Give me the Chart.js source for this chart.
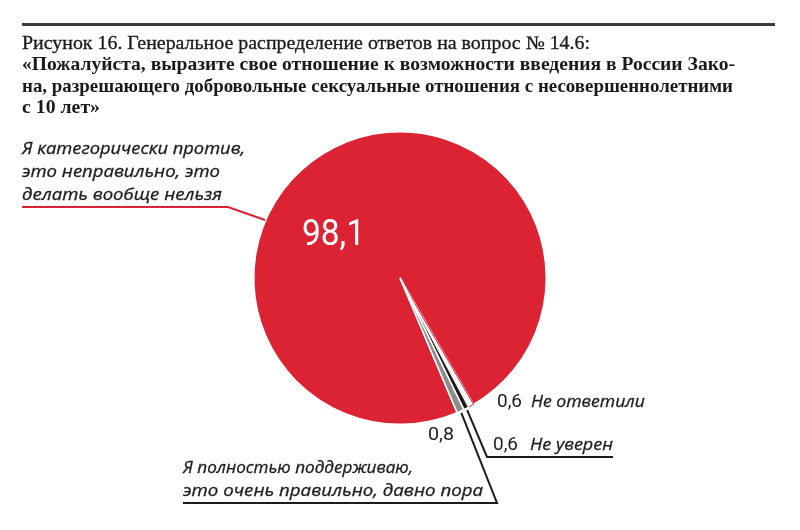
<!DOCTYPE html>
<html lang="ru">
<head>
<meta charset="utf-8">
<script src="https://cdn.jsdelivr.net/npm/chart.js@4"></script>
<style>
  html, body { margin: 0; padding: 0; background: #fff; }
  #wrap { width: 800px; height: 530px; }
</style>
</head>
<body>
<div id="wrap"><canvas id="pieChart" width="800" height="530"></canvas></div>
<script>
// data
const categories = [
  "Я категорически против, это неправильно, это делать вообще нельзя",
  "Не ответили",
  "Не уверен",
  "Я полностью поддерживаю, это очень правильно, давно пора"
];
const values = [98.1, 0.6, 0.6, 0.8];
const valueLabels = ["98,1", "0,6", "0,6", "0,8"];

const titleLines = [
  "Рисунок 16. Генеральное распределение ответов на вопрос № 14.6:",
  "«Пожалуйста, выразите свое отношение к возможности введения в России Зако-",
  "на, разрешающего добровольные сексуальные отношения с несовершеннолетними",
  "с 10 лет»"
];

const RED = "#dc2334";
const DARK = "#1e1b1c";
const GRAY = "#8c8c8c";

// draw text squeezed / stretched to a given width
function fitText(ctx, text, x, y, width, heavy) {
  const w = ctx.measureText(text).width;
  ctx.save();
  ctx.translate(x, y);
  ctx.scale(width / w, 1);
  ctx.fillText(text, 0, 0);
  if (heavy) {
    ctx.strokeStyle = ctx.fillStyle;
    ctx.lineWidth = heavy;
    ctx.strokeText(text, 0, 0);
  }
  ctx.restore();
}

// point on the edge of a slice, at its middle angle
function sliceEdge(arc, extra) {
  const p = arc.getProps(["x", "y", "startAngle", "endAngle", "outerRadius"], true);
  const a = (p.startAngle + p.endAngle) / 2;
  const r = p.outerRadius + extra;
  return { x: p.x + Math.cos(a) * r, y: p.y + Math.sin(a) * r };
}

const annotations = {
  id: "annotations",
  afterDraw(chart) {
    const ctx = chart.ctx;
    const arcs = chart.getDatasetMeta(0).data;
    ctx.save();

    // top rule
    ctx.fillStyle = "#3a3a3a";
    ctx.fillRect(22, 23, 753, 3);

    // title
    ctx.fillStyle = "#1a1a1a";
    ctx.textBaseline = "alphabetic";
    ctx.font = "19px 'Liberation Serif', serif";
    fitText(ctx, titleLines[0], 22, 49, 568, 0.3);
    ctx.font = "bold 19px 'Liberation Serif', serif";
    fitText(ctx, titleLines[1], 22, 70, 713);
    fitText(ctx, titleLines[2], 22, 92, 711);
    fitText(ctx, titleLines[3], 22, 113, 78);

    // big value on the red slice
    ctx.fillStyle = "#fff";
    ctx.font = "37px Roboto, sans-serif";
    fitText(ctx, valueLabels[0], 302, 245, 63);

    // red label
    ctx.fillStyle = DARK;
    ctx.font = "italic 17px 'Open Sans', sans-serif";
    fitText(ctx, "Я категорически против,", 22, 154, 223, 0.3);
    fitText(ctx, "это неправильно, это", 22, 177, 198, 0.3);
    fitText(ctx, "делать вообще нельзя", 22, 200, 200, 0.3);

    ctx.strokeStyle = RED;
    ctx.lineWidth = 2;
    ctx.beginPath();
    ctx.moveTo(22, 207);
    ctx.lineTo(228, 207);
    ctx.lineTo(265, 220);
    ctx.stroke();

    // small slices
    ctx.strokeStyle = DARK;
    ctx.lineWidth = 2;
    const pNotSure = sliceEdge(arcs[2], 2);
    ctx.beginPath();
    ctx.moveTo(pNotSure.x, pNotSure.y);
    ctx.lineTo(487, 457);
    ctx.lineTo(613, 457);
    ctx.stroke();

    const pSupport = sliceEdge(arcs[3], 2);
    ctx.beginPath();
    ctx.moveTo(pSupport.x, pSupport.y);
    ctx.lineTo(497, 503);
    ctx.lineTo(183, 503);
    ctx.stroke();

    ctx.fillStyle = DARK;
    ctx.font = "18px Roboto, sans-serif";
    fitText(ctx, valueLabels[1], 497, 407, 25);
    fitText(ctx, valueLabels[2], 493, 450, 25);
    fitText(ctx, valueLabels[3], 428, 440, 26);

    ctx.font = "italic 17px 'Open Sans', sans-serif";
    fitText(ctx, categories[1], 531, 407, 114, 0.3);
    fitText(ctx, categories[2], 530, 450, 83, 0.3);
    fitText(ctx, "Я полностью поддерживаю,", 183, 473, 230, 0.3);
    fitText(ctx, "это очень правильно, давно пора", 183, 496, 300, 0.3);

    ctx.restore();
  }
};

new Chart(document.getElementById("pieChart"), {
  type: "pie",
  data: {
    labels: categories,
    datasets: [{
      data: values,
      backgroundColor: [RED, "#ffffff", DARK, GRAY],
      borderColor: ["#ffffff", RED, "#ffffff", "#ffffff"],
      borderWidth: [1.5, 1, 1.5, 1.5]
    }]
  },
  options: {
    responsive: false,
    animation: false,
    rotation: 157,
    layout: { padding: { top: 131, bottom: 105, left: 253, right: 253 } },
    plugins: {
      legend: { display: false },
      tooltip: { enabled: false }
    }
  },
  plugins: [annotations]
});
</script>
</body>
</html>
